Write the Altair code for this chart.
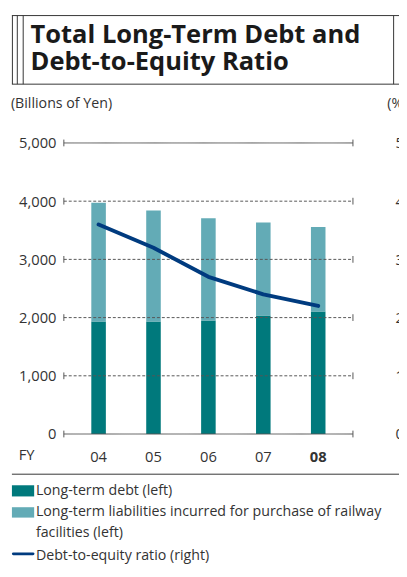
import altair as alt
import pandas as pd

years = ["04", "05", "06", "07", "08"]
long_term_debt = [1935, 1935, 1950, 2035, 2105]
railway_liabilities = [2040, 1905, 1755, 1600, 1450]
de_ratio = [3.6, 3.2, 2.7, 2.4, 2.2]
left_ticks = [0, 1000, 2000, 3000, 4000, 5000]
right_ticks = [0, 1, 2, 3, 4, 5]

series_names = ["Long-term debt (left)",
                "Long-term liabilities incurred for purchase of railway facilities (left)"]
colors = ["#00797c", "#63abb6"]
line_color = "#003b7f"
FONT = "Open Sans"
W, H = 295, 297

rows = []
for i, y in enumerate(years):
    rows.append({"year": y, "series": series_names[0], "value": long_term_debt[i], "ord": 0})
    rows.append({"year": y, "series": series_names[1], "value": railway_liabilities[i], "ord": 1})
bars_df = pd.DataFrame(rows)
line_df = pd.DataFrame({"year": years, "ratio": de_ratio})
grid_df = pd.DataFrame({"v": left_ticks})

xscale = alt.Scale(domain=years, paddingInner=0.735, paddingOuter=0.5)
yscale = alt.Scale(domain=[0, 5000], nice=False, zero=True)

x_axis = alt.Axis(
    orient="bottom", title=None, domain=False, ticks=False, tickSize=0, grid=False,
    labelPadding=23, labelBaseline="middle", labelAngle=0,
    labelFont=FONT, labelFontSize=15, labelColor="#333333",
    labelFontWeight={"condition": {"test": "datum.value == '08'", "value": "bold"}, "value": "normal"})
y_axis = alt.Axis(
    orient="left", title=None, values=left_ticks, format=",.0f", domain=False,
    ticks=False, grid=False, labelPadding=8, labelFont=FONT, labelFontSize=15,
    labelColor="#333333")

bars = alt.Chart(bars_df).mark_bar().encode(
    x=alt.X("year:N", scale=xscale, sort=years, axis=x_axis),
    y=alt.Y("value:Q", scale=yscale, stack="zero", axis=y_axis),
    color=alt.Color("series:N", scale=alt.Scale(domain=series_names, range=colors), legend=None),
    order=alt.Order("ord:Q", sort="ascending"),
)

grid = alt.Chart(grid_df).mark_rule(color="#555555", strokeWidth=1).encode(
    y=alt.Y("v:Q", scale=yscale, axis=y_axis),
    x=alt.value(0), x2=alt.value(W),
    strokeDash=alt.condition("datum.v == 0 || datum.v == 5000", alt.value([1, 0]), alt.value([3, 2])),
)

def caps(xpos):
    return alt.Chart(grid_df).transform_calculate(
        lo="datum.v - 58", hi="datum.v + 58"
    ).mark_rule(color="#555555", strokeWidth=1).encode(
        y=alt.Y("lo:Q", scale=yscale, axis=y_axis), y2="hi:Q", x=alt.value(xpos))

left_layer = alt.layer(bars, grid, caps(0), caps(W))

line = alt.Chart(line_df).mark_line(color=line_color, strokeWidth=4, strokeCap="round", strokeJoin="round").encode(
    x=alt.X("year:N", scale=xscale, sort=years, axis=x_axis),
    y=alt.Y("ratio:Q", scale=alt.Scale(domain=[0, 5], nice=False), axis=alt.Axis(
        orient="right", title=None, values=right_ticks, domain=False, ticks=False,
        grid=False, labelPadding=43, labelFont=FONT, labelFontSize=15, labelColor="#333333")),
)

one = pd.DataFrame({"a": [0]})

def txt(s, x, y, size=14, weight="normal", color="#333333", baseline="middle"):
    return alt.Chart(one).mark_text(text=s, align="left", baseline=baseline, font=FONT,
                                    fontSize=size, fontWeight=weight, color=color).encode(
        x=alt.value(x), y=alt.value(y))

def hrule(x1, x2, y, color="#333333", w=1):
    return alt.Chart(one).mark_rule(color=color, strokeWidth=w).encode(
        x=alt.value(x1), x2=alt.value(x2), y=alt.value(y))

def vrule(x, y1, y2, color="#333333", w=1):
    return alt.Chart(one).mark_rule(color=color, strokeWidth=w).encode(
        x=alt.value(x), y=alt.value(y1), y2=alt.value(y2))

def rect(x1, x2, y1, y2, color):
    return alt.Chart(one).mark_rect(color=color).encode(
        x=alt.value(x1), x2=alt.value(x2), y=alt.value(y1), y2=alt.value(y2))

# offsets: plot origin is at page (65, 140)
deco = [
    hrule(-53, 345, -130), hrule(-53, 345, -60),
    vrule(-52.5, -130, -60), vrule(-47.5, -130, -60), vrule(-41.5, -130, -60), vrule(336.5, -130, -60),
    txt("Total Long-Term Debt and", -34, -102.5, size=26, weight="bold", color="#1a1a1a", baseline="alphabetic"),
    txt("Debt-to-Equity Ratio", -34, -74, size=26, weight="bold", color="#1a1a1a", baseline="alphabetic"),
    txt("(Billions of Yen)", -54, -40, size=14.5),
    txt("(%)", 330, -40, size=14.5),
    txt("FY", -46, 319, size=15),
    hrule(-53, 345, 338),
    rect(-53, -30.3, 349.3, 360.7, colors[0]),
    txt("Long-term debt (left)", -28.5, 355, size=14.5),
    rect(-53, -30.3, 371.7, 382.3, colors[1]),
    txt("Long-term liabilities incurred for purchase of railway", -28.5, 377, size=14.5),
    txt("facilities (left)", -28.5, 398, size=14.5),
    alt.Chart(one).mark_rule(color=line_color, strokeWidth=3, strokeCap="round").encode(
        x=alt.value(-51.5), x2=alt.value(-31.5), y=alt.value(419.3)),
    txt("Debt-to-equity ratio (right)", -28.5, 421.7, size=14.5),
]

chart = alt.layer(left_layer, line, *deco).resolve_scale(y="independent").properties(
    width=W, height=H,
    background="white",
    autosize=alt.AutoSizeParams(type="none"),
    padding={"left": 57, "top": 132, "right": 47, "bottom": 131},
).configure_view(stroke="transparent", strokeOpacity=0).configure_axis(
    domain=False, grid=False, ticks=False
)

chart.save("out.html", embed_options={"renderer": "svg", "actions": False})
